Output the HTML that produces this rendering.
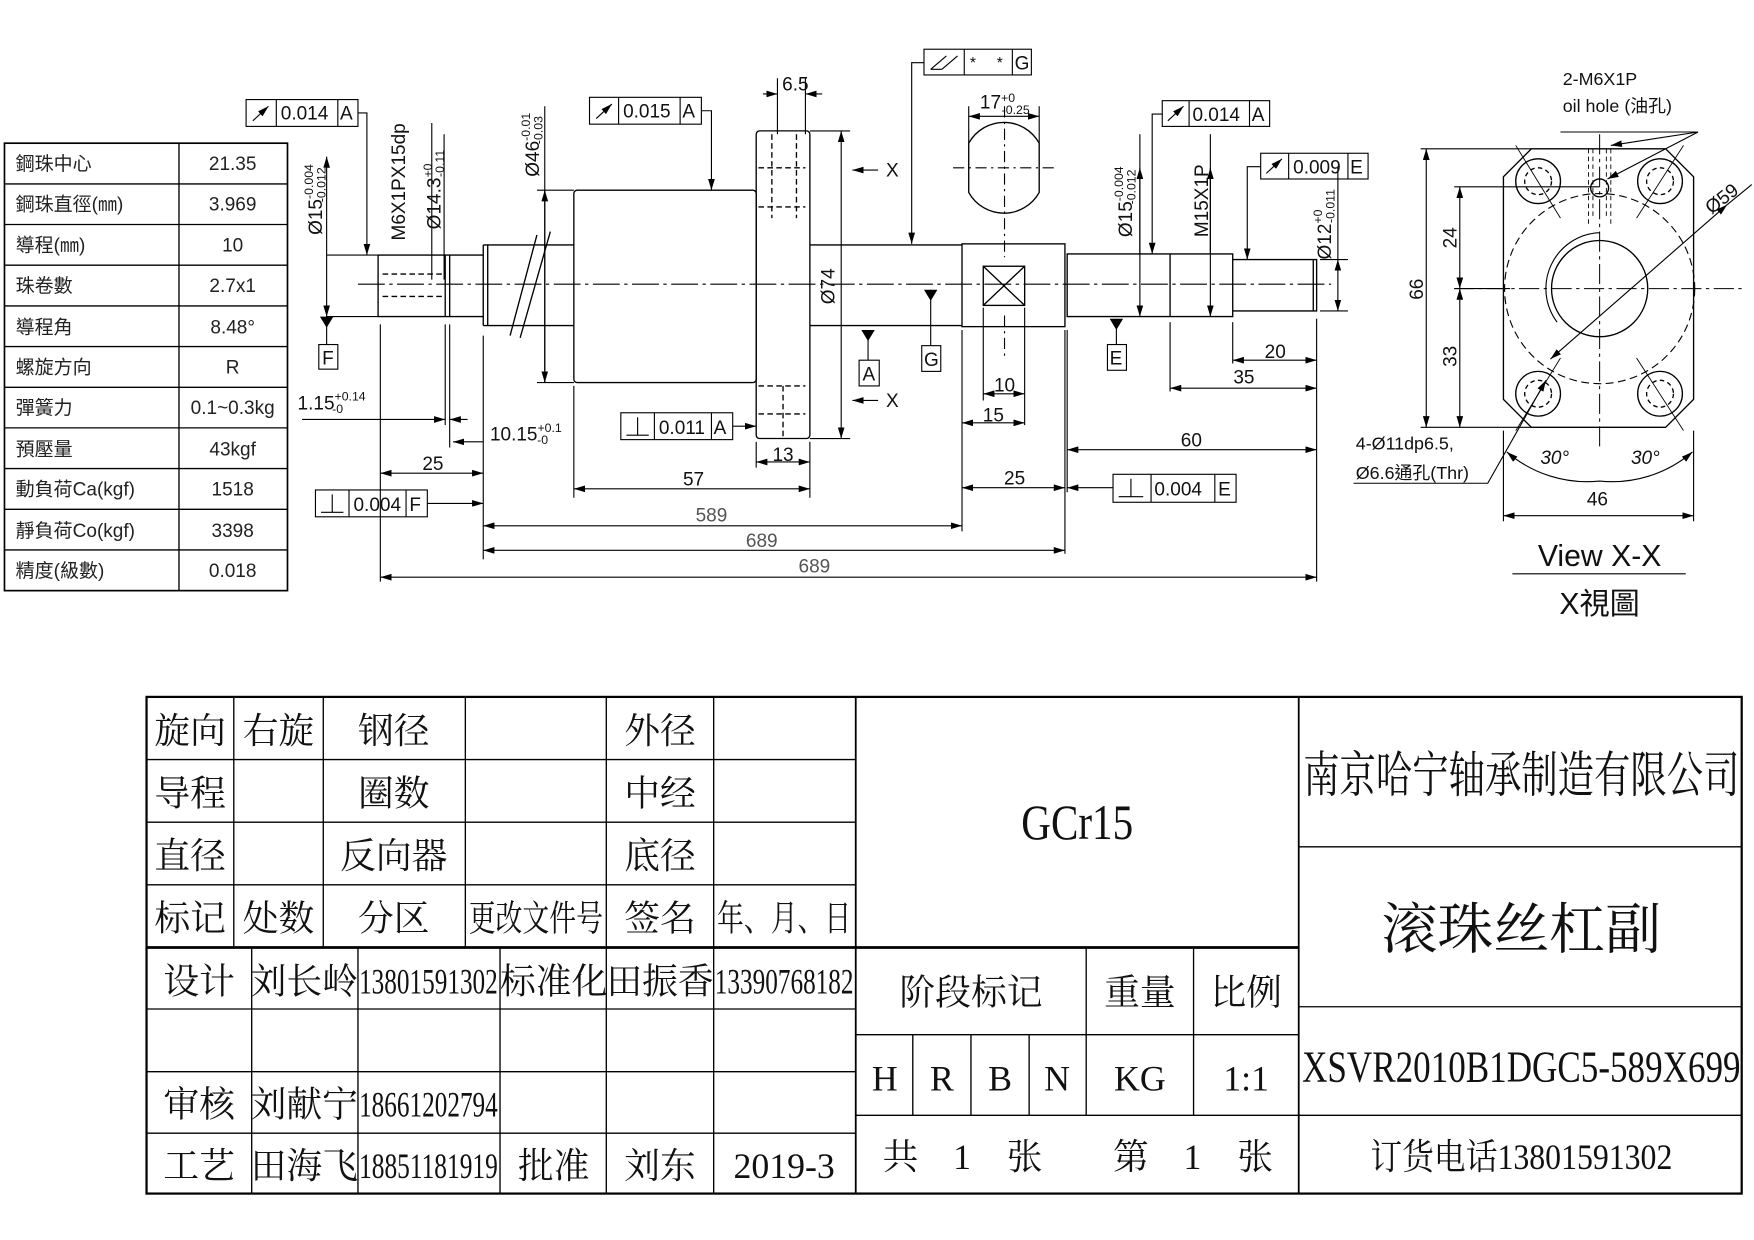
<!DOCTYPE html>
<html><head><meta charset="utf-8"><style>html,body{margin:0;padding:0;background:#fff}svg{display:block}</style></head><body>
<svg width="1754" height="1240" viewBox="0 0 1568 1108.5" xmlns="http://www.w3.org/2000/svg" font-family="Liberation Sans, Noto Sans CJK TC, sans-serif">
<defs>
<marker id="a" viewBox="0 0 10 6" refX="10" refY="3" markerWidth="10" markerHeight="6" orient="auto-start-reverse" markerUnits="userSpaceOnUse"><path d="M0,0L10,3L0,6z" fill="#000"/></marker>
</defs>
<g stroke="#000" fill="none" stroke-width="1.2">
<!-- left table -->
<rect x="4" y="128" width="253" height="400" stroke-width="1.5"/>
<line x1="160" y1="128" x2="160" y2="528"/>
<path d="M4 164.4H257M4 200.7H257M4 237.1H257M4 273.5H257M4 309.8H257M4 346.2H257M4 382.5H257M4 418.9H257M4 455.3H257M4 491.6H257"/>
</g>
<g font-size="17" fill="#222">
<text x="14" y="152">鋼珠中心</text><text x="14" y="188">鋼珠直徑(㎜)</text><text x="14" y="225">導程(㎜)</text><text x="14" y="261">珠卷數</text><text x="14" y="298">導程角</text><text x="14" y="334">螺旋方向</text><text x="14" y="370">彈簧力</text><text x="14" y="407">預壓量</text><text x="14" y="443">動負荷Ca(kgf)</text><text x="14" y="480">靜負荷Co(kgf)</text><text x="14" y="516">精度(級數)</text>
<g text-anchor="middle"><text x="208" y="152">21.35</text><text x="208" y="188">3.969</text><text x="208" y="225">10</text><text x="208" y="261">2.7x1</text><text x="208" y="298">8.48°</text><text x="208" y="334">R</text><text x="208" y="370">0.1~0.3kg</text><text x="208" y="407">43kgf</text><text x="208" y="443">1518</text><text x="208" y="480">3398</text><text x="208" y="516">0.018</text></g>
</g>

<!-- main drawing -->
<g stroke="#000" fill="none" stroke-width="1.2">
<line x1="320" y1="254" x2="1190" y2="254" stroke-dasharray="24 4 3 4" stroke-width="1"/>
<!-- left journal -->
<path d="M338 228H432M338 283H432M338 228V283M398 228V283M402 228V283"/>
<path d="M342 245H395M342 265H395" stroke-dasharray="5 3"/>
<!-- screw -->
<path d="M432 219V291M432 219H513M432 291H513M436 219V291"/>
<path d="M456 300L480 210M465 302L492 207"/>
<rect x="513" y="170" width="163" height="172" rx="3"/>
<rect x="676" y="117" width="48" height="275" rx="3"/>
<path d="M724 219H860M724 291H860"/>
<path d="M678 150H720M678 185H720M690 120V195M712 120V195M678 370H720M678 345H720M700 345V392" stroke-dasharray="5 3"/>
<rect x="860" y="218" width="92" height="74"/>
<rect x="879" y="238" width="37" height="35"/><path d="M879 238L916 273M916 238L879 273"/>
<path d="M954 227H1046V283H954ZM1046 227H1102V283H1046ZM1102 232H1177V278H1102"/>
<path d="M1174 232V278"/>
<!-- 17 flat circle -->
<path d="M866 128A36 36 0 0 1 929 128V172A36 36 0 0 1 866 172Z"/>
<path d="M852 150H945M898 95V230M898 282V318" stroke-dasharray="10 4 2 4" stroke-width="1"/>
<!-- dims -->
<g stroke-width="1">
<path d="M292 140V283" marker-start="url(#a)" marker-end="url(#a)"/>
<path d="M292 228H338M292 283H338"/>
<path d="M292 283V308"/><rect x="285" y="308" width="17" height="22"/>
<path d="M386 110V250"/><path d="M397 120V250"/>
<path d="M340 290V430M398 290V380M402 290V400M432 300V500M513 345V445M724 395V445M676 395V418M860 295V475M952 295V495M954 295V440M1177 285V520M340 400V520M1046 288V350M1102 288V325M879 275V358M916 275V380"/>
<path d="M270 375H398" marker-end="url(#a)"/><path d="M418 375H402" marker-end="url(#a)"/>
<path d="M405 395H432" marker-start="url(#a)"/>
<path d="M340 423H432" marker-start="url(#a)" marker-end="url(#a)"/>
<path d="M513 437H724" marker-start="url(#a)" marker-end="url(#a)"/>
<path d="M432 470H860" marker-start="url(#a)" marker-end="url(#a)"/>
<path d="M432 492H952" marker-start="url(#a)" marker-end="url(#a)"/>
<path d="M340 516H1177" marker-start="url(#a)" marker-end="url(#a)"/>
<path d="M676 413H724" marker-start="url(#a)" marker-end="url(#a)"/>
<path d="M682 84H695" marker-end="url(#a)"/><path d="M735 84H720" marker-end="url(#a)"/><path d="M695 70V120M720 70V120"/>
<path d="M752 117V392" marker-start="url(#a)" marker-end="url(#a)"/><path d="M724 117H760M724 392H760"/>
<path d="M487 95V342" marker-end="url(#a)"/><path d="M487 170V342" marker-start="url(#a)"/><path d="M480 170H513M480 342H513"/>
<path d="M785 152H762" marker-end="url(#a)"/><path d="M785 358H762" marker-end="url(#a)"/>
<path d="M879 352H916" marker-start="url(#a)" marker-end="url(#a)"/>
<path d="M860 378H916" marker-start="url(#a)" marker-end="url(#a)"/>
<path d="M860 436H952" marker-start="url(#a)" marker-end="url(#a)"/>
<path d="M995 436H954" marker-end="url(#a)"/>
<path d="M954 402H1177" marker-start="url(#a)" marker-end="url(#a)"/>
<path d="M1046 347H1177" marker-start="url(#a)" marker-end="url(#a)"/>
<path d="M1102 322H1177" marker-start="url(#a)" marker-end="url(#a)"/>
<path d="M866 104H929" marker-start="url(#a)" marker-end="url(#a)"/><path d="M866 95V128M929 95V128"/>
<path d="M1019 150V283" marker-start="url(#a)" marker-end="url(#a)"/><path d="M1019 120V227"/>
<path d="M1082 150V283" marker-start="url(#a)" marker-end="url(#a)"/><path d="M1082 120V227"/>
<path d="M1196 232V278" marker-start="url(#a)" marker-end="url(#a)"/><path d="M1180 232H1205M1180 278H1205M1196 150V232"/>
<!-- datums -->
<path d="M776 295V322"/><rect x="768" y="322" width="18" height="23"/>
<path d="M832 259V309"/><rect x="824" y="309" width="17" height="23"/>
<path d="M998 285V308"/><rect x="990" y="308" width="17" height="23"/>
<!-- leaders -->
<path d="M320 101H328V228" marker-end="url(#a)"/>
<path d="M627 99H636V170" marker-end="url(#a)"/>
<path d="M826 56H815V218" marker-end="url(#a)"/>
<path d="M1039 102H1030V227" marker-end="url(#a)"/>
<path d="M1127 149H1115V232" marker-end="url(#a)"/>
<path d="M655 381H676" marker-end="url(#a)"/>
<path d="M382 450H432" marker-end="url(#a)"/>
</g>
<g fill="#000" stroke="none"><path d="M286 283H298L292 293Z"/><path d="M770 295H782L776 305Z"/><path d="M826 259H838L832 269Z"/><path d="M992 285H1004L998 295Z"/></g>
<!-- FCF boxes -->
<g stroke-width="1">
<rect x="220" y="89" width="100" height="24"/><path d="M247 89V113M302 89V113"/><path d="M226 108L240 95" marker-end="url(#a)"/>
<rect x="527" y="87" width="100" height="24"/><path d="M553 87V111M608 87V111"/><path d="M533 106L547 93" marker-end="url(#a)"/>
<rect x="826" y="44" width="96" height="23"/><path d="M862 44V67M905 44V67"/><path d="M832 62L846 50M842 62L856 50M832 62H842"/>
<rect x="1039" y="90" width="96" height="23"/><path d="M1063 90V113M1117 90V113"/><path d="M1044 108L1058 95" marker-end="url(#a)"/>
<rect x="1127" y="137" width="96" height="23"/><path d="M1152 137V160M1205 137V160"/><path d="M1132 155L1146 142" marker-end="url(#a)"/>
<rect x="555" y="369" width="100" height="24"/><path d="M585 369V393M636 369V393M560 389H580M570 373V389"/>
<rect x="282" y="438" width="100" height="24"/><path d="M312 438V462M363 438V462M287 458H307M297 442V458"/>
<rect x="995" y="424" width="110" height="25"/><path d="M1029 424V449M1086 424V449M1000 444H1022M1011 428V444"/>
</g>
</g>
<g font-size="17" fill="#111">
<text x="251" y="107">0.014</text><text x="304" y="107">A</text>
<text x="557" y="105">0.015</text><text x="610" y="105">A</text>
<text x="867" y="61" font-size="14">*</text><text x="891" y="61" font-size="14">*</text><text x="907" y="62">G</text>
<text x="1066" y="108">0.014</text><text x="1119" y="108">A</text>
<text x="1156" y="155">0.009</text><text x="1207" y="155">E</text>
<text x="589" y="388">0.011</text><text x="638" y="388">A</text>
<text x="316" y="457">0.004</text><text x="366" y="457">F</text>
<text x="1032" y="443">0.004</text><text x="1089" y="443">E</text>
<text x="288" y="326">F</text><text x="771" y="340">A</text><text x="826" y="327">G</text><text x="992" y="326">E</text>
<text x="792" y="158">X</text><text x="792" y="364">X</text>
<g text-anchor="middle">
<text x="711" y="81">6.5</text><text x="700" y="412">13</text><text x="387" y="420">25</text><text x="620" y="434">57</text>
<text x="636" y="466" fill="#555">589</text><text x="681" y="489" fill="#555">689</text><text x="728" y="512" fill="#555">689</text>
<text x="898" y="350">10</text><text x="888" y="377">15</text><text x="907" y="433">25</text><text x="1065" y="399">60</text><text x="1112" y="343">35</text><text x="1140" y="320">20</text>
</g>
<text x="266" y="366">1.15<tspan font-size="11" dy="-8">+0.14</tspan><tspan font-size="11" dx="-30" dy="11">-0</tspan></text>
<text x="438" y="394">10.15<tspan font-size="11" dy="-8">+0.1</tspan><tspan font-size="11" dx="-22" dy="11">-0</tspan></text>
<text x="876" y="97">17<tspan font-size="11" dy="-6">+0</tspan><tspan font-size="11" dx="-12" dy="11">-0.25</tspan></text>
<text transform="translate(288,210) rotate(-90)">Ø15<tspan font-size="11" dy="-8">-0.004</tspan><tspan font-size="11" dx="-34" dy="11">-0.012</tspan></text>
<text transform="translate(362,215) rotate(-90)">M6X1PX15dp</text>
<text transform="translate(394,205) rotate(-90)">Ø14.3<tspan font-size="11" dy="-8">+0</tspan><tspan font-size="11" dx="-12" dy="11">-0.11</tspan></text>
<text transform="translate(482,158) rotate(-90)">Ø46<tspan font-size="11" dy="-8">-0.01</tspan><tspan font-size="11" dx="-28" dy="11">-0.03</tspan></text>
<text transform="translate(746,272) rotate(-90)">Ø74</text>
<text transform="translate(1012,212) rotate(-90)">Ø15<tspan font-size="11" dy="-8">-0.004</tspan><tspan font-size="11" dx="-34" dy="11">-0.012</tspan></text>
<text transform="translate(1080,212) rotate(-90)">M15X1P</text>
<text transform="translate(1190,232) rotate(-90)">Ø12<tspan font-size="11" dy="-8">+0</tspan><tspan font-size="11" dx="-12" dy="11">-0.011</tspan></text>
</g>

<!-- view X-X -->
<g stroke="#000" fill="none" stroke-width="1.2">
<path d="M1369 133H1489L1514 158V357L1489 382H1369L1344 357V158Z"/>
<path d="M1344 158L1344 198M1514 158V198M1344 320V357M1514 320V357" stroke-width="0.8"/>
<circle cx="1430" cy="258" r="43"/>
<path d="M1392 288A50 50 0 0 1 1430 208" stroke-width="1"/>
<circle cx="1430" cy="258" r="85" stroke-dasharray="7 4" stroke-width="1"/>
<circle cx="1375" cy="162" r="20"/><circle cx="1375" cy="162" r="12" stroke-dasharray="4 3"/>
<circle cx="1484" cy="162" r="20"/><circle cx="1484" cy="162" r="12" stroke-dasharray="4 3"/>
<circle cx="1375" cy="352" r="20"/><circle cx="1375" cy="352" r="12" stroke-dasharray="4 3"/>
<circle cx="1484" cy="352" r="20"/><circle cx="1484" cy="352" r="12" stroke-dasharray="4 3"/>
<circle cx="1430" cy="168" r="8"/>
<path d="M1420 133V200M1440 133V200M1424 133V195M1436 133V195" stroke-dasharray="4 3" stroke-width="0.8"/>
<path d="M1300 258H1560M1430 120V400" stroke-dasharray="18 4 3 4" stroke-width="0.9"/>
<path d="M1355 130L1395 195M1505 130L1463 195M1395 320L1355 385M1463 320L1505 385" stroke-width="0.8"/>
<g stroke-width="1">
<path d="M1275 133V382" marker-start="url(#a)" marker-end="url(#a)"/><path d="M1270 133H1369M1270 382H1369"/>
<path d="M1305 167V258" marker-start="url(#a)" marker-end="url(#a)"/><path d="M1305 258V382" marker-start="url(#a)" marker-end="url(#a)"/><path d="M1300 167H1430M1300 258H1350"/>
<path d="M1344 461H1514" marker-start="url(#a)" marker-end="url(#a)"/><path d="M1344 385V466M1514 385V466"/>
<path d="M1386 321L1544 183" marker-start="url(#a)" marker-end="url(#a)"/><path d="M1544 183L1566 165"/>
<path d="M1347 404A110 110 0 0 0 1430 430A110 110 0 0 0 1513 404" marker-start="url(#a)" marker-end="url(#a)"/>
<path d="M1395 118H1518L1440 130" marker-end="url(#a)"/><path d="M1518 118L1437 160" marker-end="url(#a)"/>
<path d="M1210 432H1330L1382 340" marker-end="url(#a)"/>
<path d="M1352 513H1507"/>
</g>
</g>
<g font-size="16" fill="#111">
<text x="1397" y="76">2-M6X1P</text><text x="1397" y="100">oil hole (油孔)</text>
<text x="1212" y="402">4-Ø11dp6.5,</text><text x="1212" y="428">Ø6.6通孔(Thr)</text>
<text transform="translate(1272,268) rotate(-90)" font-size="17">66</text>
<text transform="translate(1302,222) rotate(-90)" font-size="17">24</text>
<text transform="translate(1302,328) rotate(-90)" font-size="17">33</text>
<text x="1428" y="452" text-anchor="middle" font-size="17">46</text>
<text x="1377" y="415" font-style="italic" font-size="17">30°</text><text x="1458" y="415" font-style="italic" font-size="17">30°</text>
<text transform="translate(1530,192) rotate(-38)" font-size="17">Ø59</text>
<text x="1430" y="506" text-anchor="middle" font-size="27">View X-X</text>
<text x="1430" y="549" text-anchor="middle" font-size="27">X視圖</text>
</g>

<!-- title block -->
<g stroke="#000" fill="none" stroke-width="1.2">
<rect x="131" y="623" width="1426" height="444" stroke-width="2"/>
<path d="M131 679H765M131 735H765M131 791H765M131 902H765M131 958H765M131 1013H765"/>
<path d="M131 847H1161" stroke-width="2.5"/>
<path d="M209 623V847M289 623V847M416 623V847M542 623V847M638 623V847"/>
<path d="M225 847V1067M320 847V1067M447 847V902M447 958V1067M542 847V1067M638 847V1067M447 902V958"/>
<path d="M765 623V1067M1161 623V1067" stroke-width="1.6"/>
<path d="M765 925H1161M765 997H1161M971 847V997M1067 847V997M816 925V997M868 925V997M920 925V997"/>
<path d="M1161 757H1557M1161 900H1557M1161 997H1557"/>
</g>
<g font-family="Liberation Serif, Noto Serif CJK SC, serif" font-size="32" fill="#111" text-anchor="middle">
<text x="170" y="664">旋向</text><text x="249" y="664">右旋</text><text x="352" y="664">钢径</text><text x="590" y="664">外径</text>
<text x="170" y="720">导程</text><text x="352" y="720">圈数</text><text x="590" y="720">中经</text>
<text x="170" y="776">直径</text><text x="352" y="776">反向器</text><text x="590" y="776">底径</text>
<text x="170" y="832">标记</text><text x="249" y="832">处数</text><text x="352" y="832">分区</text><text x="479" y="832" textLength="120" lengthAdjust="spacingAndGlyphs">更改文件号</text><text x="590" y="832">签名</text><text x="701" y="832" textLength="120" lengthAdjust="spacingAndGlyphs">年、月、日</text>
<text x="178" y="888">设计</text><text x="272" y="888">刘长岭</text><text x="383" y="888" textLength="124" lengthAdjust="spacingAndGlyphs">13801591302</text><text x="495" y="888">标准化</text><text x="590" y="888">田振香</text><text x="701" y="888" textLength="124" lengthAdjust="spacingAndGlyphs">13390768182</text>
<text x="178" y="998">审核</text><text x="272" y="998">刘献宁</text><text x="383" y="998" textLength="124" lengthAdjust="spacingAndGlyphs">18661202794</text>
<text x="178" y="1053">工艺</text><text x="272" y="1053">田海飞</text><text x="383" y="1053" textLength="124" lengthAdjust="spacingAndGlyphs">18851181919</text><text x="495" y="1053">批准</text><text x="590" y="1053">刘东</text><text x="701" y="1053">2019-3</text>
<text x="963" y="750" font-size="44" textLength="100" lengthAdjust="spacingAndGlyphs">GCr15</text>
<text x="868" y="898">阶段标记</text><text x="1019" y="898">重量</text><text x="1114" y="898">比例</text>
<text x="791" y="975">H</text><text x="842" y="975">R</text><text x="894" y="975">B</text><text x="945" y="975">N</text><text x="1019" y="975">KG</text><text x="1114" y="975">1:1</text>
<text x="805" y="1045">共</text><text x="860" y="1045">1</text><text x="916" y="1045">张</text><text x="1011" y="1045">第</text><text x="1066" y="1045">1</text><text x="1122" y="1045">张</text>
<text x="1360" y="708" font-size="44" textLength="390" lengthAdjust="spacingAndGlyphs">南京哈宁轴承制造有限公司</text>
<text x="1360" y="848" font-size="50">滚珠丝杠副</text>
<text x="1360" y="967" font-size="40" textLength="392" lengthAdjust="spacingAndGlyphs">XSVR2010B1DGC5-589X699</text>
<text x="1360" y="1045" textLength="270" lengthAdjust="spacingAndGlyphs">订货电话13801591302</text>
</g>
</svg>
</body></html>
